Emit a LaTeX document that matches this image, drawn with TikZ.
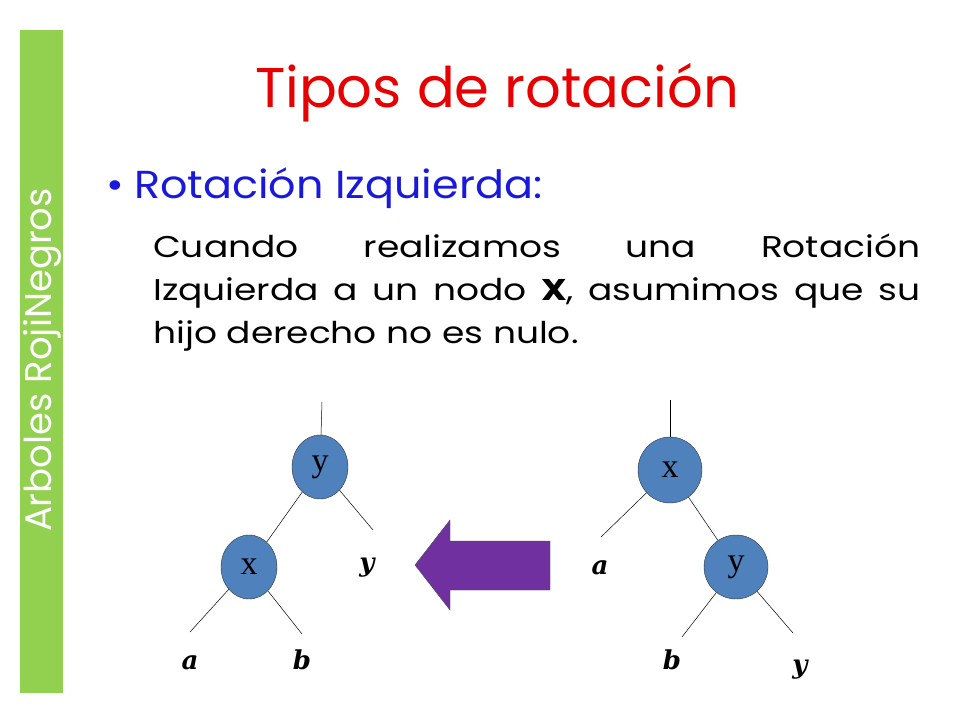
\documentclass[tikz,border=0pt]{standalone}
\usepackage{fontspec}
\setmainfont{Poppins}
\newfontfamily\bodyfont[FakeStretch=1.2]{Poppins}
\newfontfamily\subfont[FakeStretch=1.1]{Poppins}
\newfontfamily\treefont{Liberation Serif}
\newfontfamily\scriptf{DejaVu Serif}
\usetikzlibrary{shapes.geometric}
\definecolor{nodeblue}{RGB}{79,129,189}
\definecolor{bargreen}{RGB}{146,208,80}
\definecolor{titlered}{RGB}{230,0,0}
\definecolor{subblue}{RGB}{25,25,220}
\definecolor{arrowpurple}{RGB}{112,48,160}
\begin{document}
\begin{tikzpicture}[x=1pt,y=-1pt,
  tnode/.style={ellipse,draw=black!80,fill=nodeblue,minimum width=56,minimum height=64,inner sep=0,font=\treefont\fontsize{34}{34}\selectfont},
  leaf/.style={font=\scriptf\bfseries\itshape\fontsize{26}{26}\selectfont},
  edge/.style={draw=black,line width=0.5pt},
  bodyline/.style={anchor=base west,inner sep=0,font=\bodyfont\fontsize{30}{30}\selectfont}]
\useasboundingbox (0,0) rectangle (960,720);
\fill[white] (0,0) rectangle (960,720);
\fill[bargreen] (20,30) rectangle (63,693);
\node[rotate=90,text=white,font=\fontsize{37}{37}\selectfont] (side) at (42,360) {Arboles RojiNegros};
\node[text=titlered,font=\fontsize{56}{56}\selectfont] (title) at (497,93) {Tipos de rotación};
\node[anchor=west,text=subblue,font=\subfont\fontsize{39}{39}\selectfont] (bullet) at (103,188) {•\hspace{10pt}Rotación Izquierda:};
\node[bodyline] (l1) at (153,257) {\makebox[767pt][s]{Cuando realizamos una Rotación}};
\node[bodyline] (l2) at (153,300) {\makebox[767pt][s]{Izquierda a un nodo \textbf{X}, asumimos que su}};
\node[bodyline] (l3) at (153,343) {hijo derecho no es nulo.};
% left tree
\node[tnode] (ly) at (320,467) {y};
\node[tnode] (lx) at (249,567) {x};
\coordinate (ltop) at (322,402);
\coordinate (lye) at (373,530);
\coordinate (lae) at (190,632);
\coordinate (lbe) at (302,634);
\node[leaf] (lyl) at (367,568) {y};
\node[leaf] (lal) at (190,663) {a};
\node[leaf] (lbl) at (302,660) {b};
\draw[edge] (ltop) -- (ly);
\draw[edge] (ly) -- (lx);
\draw[edge] (ly) -- (lye);
\draw[edge] (lx) -- (lae);
\draw[edge] (lx) -- (lbe);
% right tree
\node[tnode,minimum width=64,minimum height=66] (rx) at (670,470) {x};
\node[tnode,minimum width=64,minimum height=64] (ry) at (736,567) {y};
\coordinate (rtop) at (670,400);
\coordinate (rae) at (601,537);
\coordinate (rbe) at (682,637);
\coordinate (rye) at (793,633);
\node[leaf] (ral) at (600,568) {a};
\node[leaf] (rbl) at (672,660) {b};
\node[leaf] (ryl) at (800,670) {y};
\draw[edge] (rtop) -- (rx);
\draw[edge] (rx) -- (ry);
\draw[edge] (rx) -- (rae);
\draw[edge] (ry) -- (rbe);
\draw[edge] (ry) -- (rye);
% arrow
\draw[black!70,fill=arrowpurple] (415,565) -- (450,520) -- (450,541) -- (550,541) -- (550,590) -- (450,590) -- (450,610) -- cycle;
\end{tikzpicture}
\end{document}
